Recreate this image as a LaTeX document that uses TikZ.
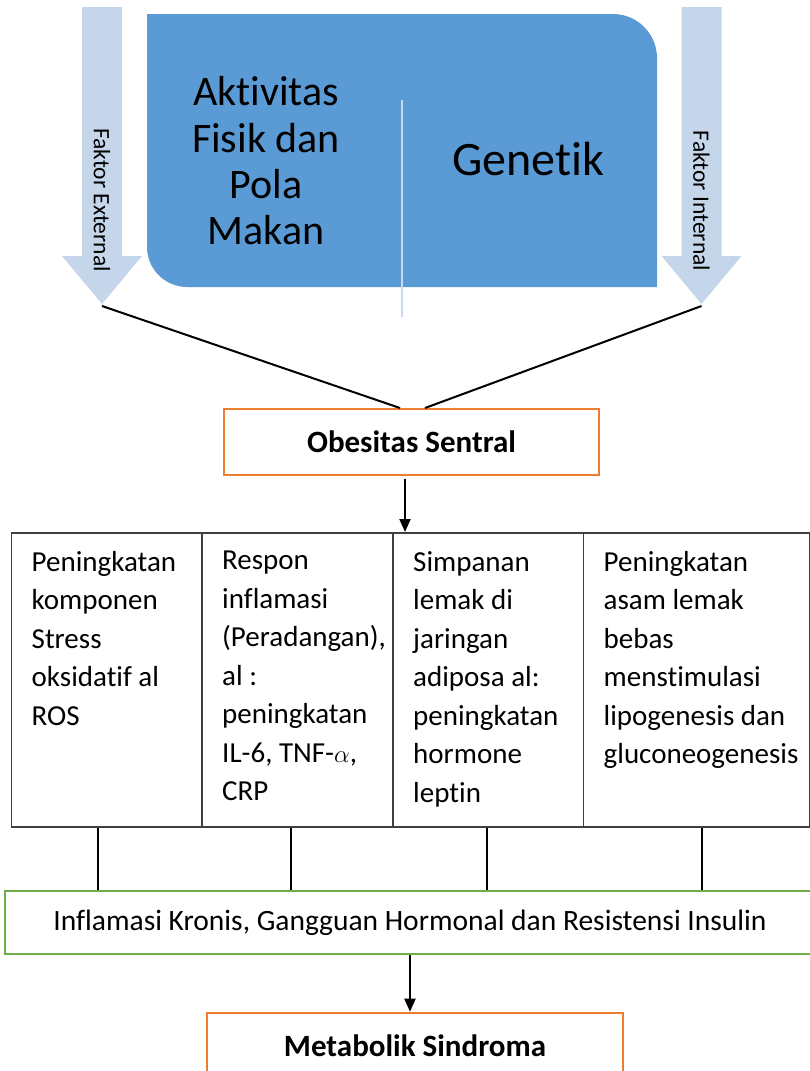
\documentclass[tikz,border=0pt]{standalone}
\usepackage{fontspec}
\setmainfont{Carlito}[Ligatures=NoCommon,RawFeature={-clig}]
\usepackage{tikz}
\usetikzlibrary{arrows.meta,calc}
\definecolor{boxblue}{HTML}{5B9BD5}
\definecolor{arrowblue}{HTML}{C5D5EA}
\definecolor{divline}{HTML}{C9DAF0}
\definecolor{obesorange}{HTML}{ED7D31}
\definecolor{sindgreen}{HTML}{70AD47}
\definecolor{cellgray}{HTML}{3F3F3F}
\tikzset{
  cell/.style={draw=cellgray,line width=1.5pt,minimum height=294pt,inner sep=0pt,anchor=north west},
  celltext/.style={anchor=north west,inner sep=0pt,align=left,font=\fontsize{29}{38.5}\selectfont,execute at begin node={\rule{0pt}{22pt}}},
  endbox/.style={draw=obesorange,line width=2pt,minimum width=375pt,minimum height=66pt,font=\fontsize{31}{36}\selectfont\bfseries},
  sidetext/.style={inner sep=0pt,font=\fontsize{23.5}{28}\selectfont},
  arr/.style={line width=2pt,-{Triangle[length=13pt,width=11pt]}}
}
\begin{document}
\begin{tikzpicture}[x=1pt,y=-1pt]
            \clip(0,0)rectangle(810,1071);
            % Side arrows
            \fill[arrowblue](82,7)--(122,7)--(122,256)--(142,256)--(102,304)--(62,256)--(82,256)--cycle;
            \fill[arrowblue](681.5,7)--(721.5,7)--(721.5,256)--(741.5,256)--(701.5,304)--(661.5,256)--(681.5,256)--cycle;
            \node[sidetext,rotate=-90](extlab)at(102,200){Faktor External};
            \node[sidetext,rotate=-90](intlab)at(701.5,201){Faktor Internal};
            \coordinate(exttip)at(102,306);
            \coordinate(inttip)at(701.5,306);
            % Causes
            \fill[boxblue](147,14)--(613,14)..controls(637.3,14)and(657,33.7)..(657,58)--(657,287)--(187,287)..controls(165,287)and(147,269)..(147,247)--cycle;
            \draw[divline,line width=2pt](402,100)--(402,317);
            \node[align=center,inner sep=0pt,font=\fontsize{42}{46.3}\selectfont](aktiv)at(266,161){Aktivitas\\Fisik dan\\Pola\\Makan};
            \node[inner sep=0pt,font=\fontsize{48}{58}\selectfont](genet)at(528,159){Genetik};
            % Obesity
            \node[endbox](obes)at(411.5,442){Obesitas Sentral};
            \draw[line width=2pt](exttip)--([xshift=-11.5pt]obes.north);
            \draw[line width=2pt](inttip)--([xshift=13.5pt]obes.north);
            % Effects
            \node[cell,minimum width=190.5pt](c1)at(10.5,532){};
            \node[cell,minimum width=191pt](c2)at(201,532){};
            \node[cell,minimum width=190.5pt](c3)at(392,532){};
            \node[cell,minimum width=226pt](c4)at(582.5,532){};
            \node[celltext](t1)at([shift={(21,19)}]c1.north west){Peningkatan\\komponen\\Stress\\oksidatif al\\ROS};
            \node[celltext](t2)at([shift={(21,19)}]c2.north west){Respon\\inflamasi\\(Peradangan),\\al :\\peningkatan\\IL-6, TNF-$\alpha$,\\CRP};
            \node[celltext](t3)at([shift={(21,19)}]c3.north west){Simpanan\\lemak di\\jaringan\\adiposa al:\\peningkatan\\hormone\\leptin};
            \node[celltext](t4)at([shift={(21,19)}]c4.north west){Peningkatan\\asam lemak\\bebas\\menstimulasi\\lipogenesis dan\\gluconeogenesis};
            \draw[arr]([xshift=-6.5pt,yshift=-3pt]obes.south)--([xshift=-6.5pt]obes.south|-c3.north);
            % Outcome
            \node[draw=sindgreen,line width=2pt,minimum width=810pt,minimum height=63pt,font=\fontsize{29.5}{34}\selectfont](infl)at(410,922.5){Inflamasi Kronis, Gangguan Hormonal dan Resistensi Insulin};
            \draw[line width=2pt]([xshift=-9pt]c1.south)--([xshift=-9pt]c1.south|-infl.north);
            \draw[line width=2pt]([xshift=-6pt]c2.south)--([xshift=-6pt]c2.south|-infl.north);
            \draw[line width=2pt]([xshift=-1.5pt]c3.south)--([xshift=-1.5pt]c3.south|-infl.north);
            \draw[line width=2pt]([xshift=6pt]c4.south)--([xshift=6pt]c4.south|-infl.north);
            \node[endbox,minimum width=416pt](metab)at(415,1045.7){Metabolik Sindroma};
            \draw[arr](infl.south)--(infl.south|-metab.north);
\end{tikzpicture}
\end{document}
